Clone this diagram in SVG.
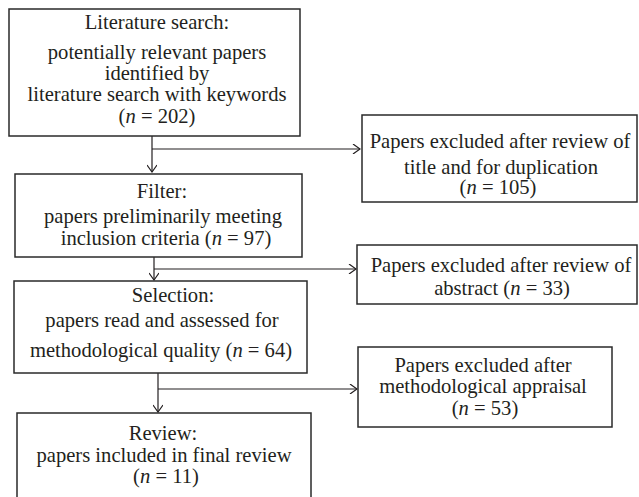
<svg xmlns="http://www.w3.org/2000/svg" width="639" height="497" viewBox="0 0 639 497">
<defs>
<style>
.box{fill:#fff;stroke:#2a2a2a;stroke-width:1.5}
.t{font-family:"Liberation Serif","Times New Roman",serif;font-size:20.6px;fill:#231f20;text-anchor:middle}
.i{font-style:italic}
.ln{fill:none;stroke:#231f20;stroke-width:1.2}
</style>
<marker id="ah" viewBox="0 0 10 10" refX="9" refY="5" markerWidth="10" markerHeight="10" markerUnits="userSpaceOnUse" orient="auto">
<path d="M2,0 L9,5 L2,10" fill="none" stroke="#231f20" stroke-width="1.2"/>
</marker>
</defs>
<rect width="639" height="497" fill="#fff"/>
<g id="connectors">
<line class="ln" x1="152" y1="136" x2="152" y2="172" marker-end="url(#ah)"/>
<line class="ln" x1="152" y1="149" x2="360" y2="149" marker-end="url(#ah)"/>
<line class="ln" x1="154" y1="257" x2="154" y2="280" marker-end="url(#ah)"/>
<line class="ln" x1="154" y1="269" x2="356" y2="269" marker-end="url(#ah)"/>
<line class="ln" x1="158" y1="373" x2="158" y2="412" marker-end="url(#ah)"/>
<line class="ln" x1="158" y1="389" x2="357" y2="389" marker-end="url(#ah)"/>
</g>
<g id="search">
<rect class="box" x="9" y="9" width="291" height="127"/>
<text class="t" x="157" y="29">Literature search:</text>
<text class="t" x="157" y="58.5">potentially relevant papers</text>
<text class="t" x="157" y="80">identified by</text>
<text class="t" x="157" y="101">literature search with keywords</text>
<text class="t" x="157" y="122.5">(<tspan class="i">n</tspan> = 202)</text>
</g>
<g id="filter">
<rect class="box" x="15" y="174" width="287" height="83"/>
<text class="t" x="162" y="198">Filter:</text>
<text class="t" x="163" y="223">papers preliminarily meeting</text>
<text class="t" x="166" y="245">inclusion criteria (<tspan class="i">n</tspan> = 97)</text>
</g>
<g id="selection">
<rect class="box" x="14" y="281" width="293" height="92"/>
<text class="t" x="173" y="302">Selection:</text>
<text class="t" x="162" y="327">papers read and assessed for</text>
<text class="t" x="161" y="357">methodological quality (<tspan class="i">n</tspan> = 64)</text>
</g>
<g id="review">
<rect class="box" x="17" y="413" width="294" height="90"/>
<text class="t" x="163" y="440">Review:</text>
<text class="t" x="164" y="462">papers included in final review</text>
<text class="t" x="166" y="483">(<tspan class="i">n</tspan> = 11)</text>
</g>
<g id="excl-title">
<rect class="box" x="362" y="115" width="275" height="87"/>
<text class="t" x="500" y="148">Papers excluded after review of</text>
<text class="t" x="501" y="174">title and for duplication</text>
<text class="t" x="498" y="194">(<tspan class="i">n</tspan> = 105)</text>
</g>
<g id="excl-abstract">
<rect class="box" x="357" y="245" width="280" height="59"/>
<text class="t" x="501" y="272">Papers excluded after review of</text>
<text class="t" x="502" y="295">abstract (<tspan class="i">n</tspan> = 33)</text>
</g>
<g id="excl-method">
<rect class="box" x="358" y="347" width="254" height="80"/>
<text class="t" x="483" y="372">Papers excluded after</text>
<text class="t" x="483" y="393">methodological appraisal</text>
<text class="t" x="485" y="415">(<tspan class="i">n</tspan> = 53)</text>
</g>
</svg>
